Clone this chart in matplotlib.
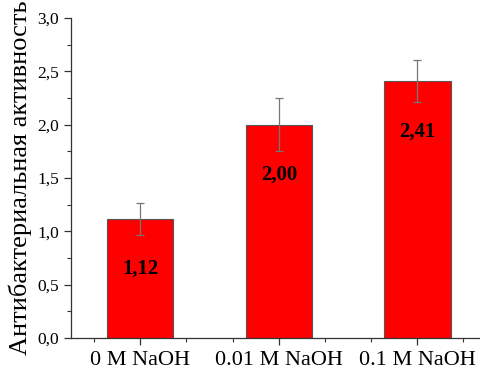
import numpy as np
import matplotlib
matplotlib.use('Agg')
import matplotlib.pyplot as plt
from matplotlib.ticker import MultipleLocator, FixedLocator, FuncFormatter

plt.rcParams['font.family'] = ['Liberation Serif', 'DejaVu Serif']

categories = ['0 M NaOH', '0.01 M NaOH', '0.1 M NaOH']
values = [1.12, 2.00, 2.41]
errors = [0.15, 0.25, 0.20]
value_labels = ['1,12', '2,00', '2,41']

x = np.arange(1, len(categories) + 1)

fig = plt.figure(figsize=(4.81, 3.69), dpi=100)
ax = fig.add_axes([0.1476, 0.084, 0.8524, 0.867])

ax.bar(x, values, width=0.48, color='#ff0000', edgecolor='#555555', linewidth=0.8, zorder=2)
ax.errorbar(x, values, yerr=errors, fmt='none', ecolor='#777777', elinewidth=0.9,
            capsize=3, capthick=0.9, zorder=3)

for xi, v, lab in zip(x, values, value_labels):
    ax.text(xi, v - 0.47, lab, ha='center', va='center', fontsize=15,
            fontweight='bold', color='black', zorder=4)

ax.set_xlim(0.5, 3.46)
ax.set_ylim(0, 3.0)
ax.set_xticks(x)
ax.set_xticklabels(categories, fontsize=16)
ax.xaxis.set_minor_locator(FixedLocator([0.6667, 1.3333, 1.6667, 2.3333, 2.6667, 3.3333]))
ax.yaxis.set_major_locator(MultipleLocator(0.5))
ax.yaxis.set_minor_locator(MultipleLocator(0.25))
ax.yaxis.set_major_formatter(FuncFormatter(lambda v, p: f'{v:.1f}'.replace('.', ',')))
ax.tick_params(axis='y', labelsize=12.5)
ax.tick_params(which='major', direction='out', length=5, width=0.9, color='#333333')
ax.tick_params(which='minor', direction='out', length=3, width=0.8, color='#333333')
ax.tick_params(axis='x', pad=4)

ax.set_ylabel('Антибактериальная активность', fontsize=19, labelpad=4)

for s in ['top', 'right']:
    ax.spines[s].set_visible(False)
for s in ['left', 'bottom']:
    ax.spines[s].set_color('#333333')
    ax.spines[s].set_linewidth(0.9)

plt.savefig('out.png', dpi=100)
